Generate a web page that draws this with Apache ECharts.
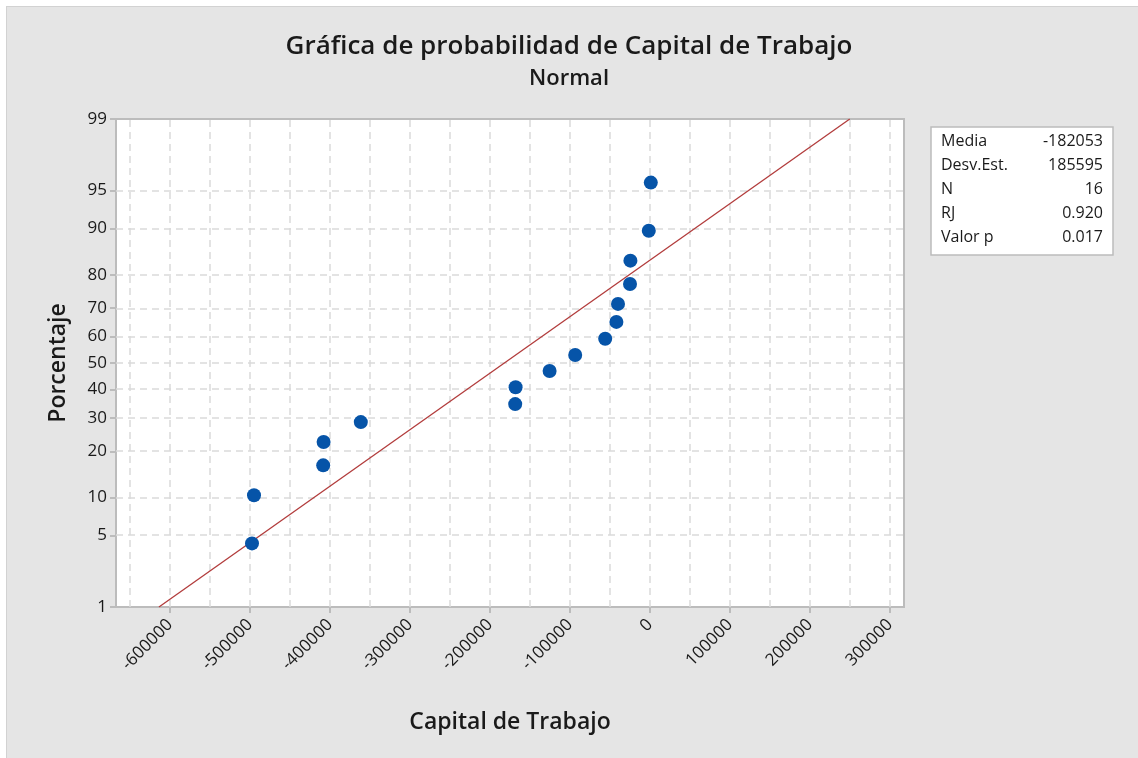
<!DOCTYPE html>
<html>
<head>
<meta charset="utf-8">
<script src="https://cdn.jsdelivr.net/npm/echarts@6/dist/echarts.min.js"></script>
<style>
html,body{margin:0;padding:0;background:#ffffff;width:1138px;height:758px;overflow:hidden;}
#panel{position:absolute;left:6px;top:6px;width:1132px;height:752px;background:#e5e5e5;border-top:1px solid #d2d2d2;border-left:1px solid #d2d2d2;box-sizing:border-box;}
#chart{position:absolute;left:0;top:0;width:1138px;height:758px;}
</style>
</head>
<body>
<div id="panel"></div>
<div id="chart"></div>
<script>
// ---- data ----
const capitalTrabajo = [-497500, -495000, -408500, -408000, -361500, -168500, -168000, -125500,
                        -93500, -56000, -42000, -40000, -25000, -24500, -1500, 1000];
const porcentaje = [4.27, 10.37, 16.46, 22.56, 28.66, 34.76, 40.85, 46.95,
                    53.05, 59.15, 65.24, 71.34, 77.44, 83.54, 89.63, 95.73];
const yTickPercents = [1, 5, 10, 20, 30, 40, 50, 60, 70, 80, 90, 95, 99];
const xTickValues = [-600000, -500000, -400000, -300000, -200000, -100000, 0, 100000, 200000, 300000];
const xGridValues = [-650000, -600000, -550000, -500000, -450000, -400000, -350000, -300000, -250000,
                     -200000, -150000, -100000, -50000, 0, 50000, 100000, 150000, 200000, 250000, 300000];
const yGridPercents = [5, 10, 20, 30, 40, 50, 60, 70, 80, 90, 95];
const statLabels = ['Media', 'Desv.Est.', 'N', 'RJ', 'Valor p'];
const statValues = ['-182053', '185595', '16', '0.920', '0.017'];
const media = -182053, desvEst = 185595;
const xMin = -667500, xMax = 317500;

// ---- probability (normal) scale transform ----
function normInv(p) {
  const a = [-3.969683028665376e+01, 2.209460984245205e+02, -2.759285104469687e+02, 1.383577518672690e+02, -3.066479806614716e+01, 2.506628277459239e+00];
  const b = [-5.447609879822406e+01, 1.615858368580409e+02, -1.556989798598866e+02, 6.680131188771972e+01, -1.328068155288572e+01];
  const c = [-7.784894002430293e-03, -3.223964580411365e-01, -2.400758277161838e+00, -2.549732539343734e+00, 4.374664141464968e+00, 2.938163982698783e+00];
  const d = [7.784695709041462e-03, 3.224671290700398e-01, 2.445134137142996e+00, 3.754408661907416e+00];
  const pl = 0.02425, ph = 1 - pl;
  let q, r;
  if (p < pl) { q = Math.sqrt(-2 * Math.log(p));
    return (((((c[0]*q+c[1])*q+c[2])*q+c[3])*q+c[4])*q+c[5]) / ((((d[0]*q+d[1])*q+d[2])*q+d[3])*q+1); }
  if (p <= ph) { q = p - 0.5; r = q*q;
    return (((((a[0]*r+a[1])*r+a[2])*r+a[3])*r+a[4])*r+a[5])*q / (((((b[0]*r+b[1])*r+b[2])*r+b[3])*r+b[4])*r+1); }
  q = Math.sqrt(-2 * Math.log(1 - p));
  return -(((((c[0]*q+c[1])*q+c[2])*q+c[3])*q+c[4])*q+c[5]) / ((((d[0]*q+d[1])*q+d[2])*q+d[3])*q+1);
}
const z = pct => normInv(pct / 100);
const yTickZ = yTickPercents.map(z);
const yMin = z(1), yMax = z(99);

const points = capitalTrabajo.map((v, i) => [v, z(porcentaje[i])]);
const fitLine = [[media + desvEst * yMin, yMin], [media + desvEst * yMax, yMax]];

const FONT = '"Open Sans", "Noto Sans", sans-serif';
const TXT = '#1a1a1a';
const gridLineStyle = { color: '#dadada', width: 1.5, type: [7, 5] };

const markLines = [];
xGridValues.forEach(v => markLines.push({ xAxis: v }));
yGridPercents.forEach(p => markLines.push({ yAxis: z(p) }));

const chart = echarts.init(document.getElementById('chart'), null, { renderer: 'canvas' });
chart.setOption({
  backgroundColor: 'transparent',
  animation: false,
  title: [
    { text: 'Gráfica de probabilidad de Capital de Trabajo', left: 'center', top: 29,
      textStyle: { fontFamily: FONT, fontSize: 26, fontWeight: 600, color: TXT } },
    { text: 'Normal', left: 'center', top: 63,
      textStyle: { fontFamily: FONT, fontSize: 22, fontWeight: 600, color: TXT } }
  ],
  grid: { left: 116, top: 119, width: 788, height: 488, show: true, backgroundColor: '#ffffff',
          borderColor: '#bcbcbc', borderWidth: 2 },
  xAxis: {
    type: 'value', min: xMin, max: xMax,
    name: 'Capital de Trabajo', nameLocation: 'middle', nameGap: 104,
    nameTextStyle: { fontFamily: FONT, fontSize: 23, fontWeight: 600, color: TXT },
    axisLine: { show: true, onZero: false, lineStyle: { color: '#bcbcbc', width: 2 } },
    axisTick: { show: true, length: 6, customValues: xTickValues, lineStyle: { color: '#bcbcbc', width: 2 } },
    axisLabel: { customValues: xTickValues, rotate: 45, margin: 15, fontFamily: FONT, fontSize: 17, color: TXT,
                 formatter: v => String(v) },
    splitLine: { show: false }
  },
  yAxis: {
    type: 'value', min: yMin, max: yMax,
    name: 'Porcentaje', nameLocation: 'middle', nameGap: 46, nameRotate: 90,
    nameTextStyle: { fontFamily: FONT, fontSize: 23, fontWeight: 600, color: TXT },
    axisLine: { show: true, onZero: false, lineStyle: { color: '#bcbcbc', width: 2 } },
    axisTick: { show: true, length: 6, customValues: yTickZ, lineStyle: { color: '#bcbcbc', width: 2 } },
    axisLabel: { customValues: yTickZ, margin: 9, fontFamily: FONT, fontSize: 17, color: TXT,
      formatter: v => {
        let best = 0, bd = Infinity;
        yTickZ.forEach((t, i) => { const d = Math.abs(t - v); if (d < bd) { bd = d; best = i; } });
        return String(yTickPercents[best]);
      } },
    splitLine: { show: false }
  },
  graphic: [
    { type: 'rect', shape: { x: 931, y: 127, width: 182, height: 128 },
      style: { fill: '#ffffff', stroke: '#bcbcbc', lineWidth: 1.5 }, z: 10 },
    ...statLabels.map((t, i) => ({ type: 'text', x: 941, y: 141 + i * 24, z: 11,
      style: { text: t, fontFamily: FONT, fontSize: 16, fill: TXT, textVerticalAlign: 'middle', textAlign: 'left' } })),
    ...statValues.map((t, i) => ({ type: 'text', x: 1103, y: 141 + i * 24, z: 11,
      style: { text: t, fontFamily: FONT, fontSize: 16, fill: TXT, textVerticalAlign: 'middle', textAlign: 'right' } }))
  ],
  series: [
    { type: 'line', data: [], silent: true, z: 1,
      markLine: { silent: true, symbol: 'none', label: { show: false }, lineStyle: gridLineStyle, z: 1,
                  emphasis: { disabled: true }, data: markLines } },
    { type: 'line', data: fitLine, showSymbol: false, symbol: 'none', silent: true,
      lineStyle: { color: '#b23c3c', width: 1.3 }, z: 3 },
    { type: 'scatter', data: points, symbol: 'circle', symbolSize: 14,
      itemStyle: { color: '#0654a8', opacity: 1, borderWidth: 0 }, z: 5 }
  ]
});
</script>
</body>
</html>
